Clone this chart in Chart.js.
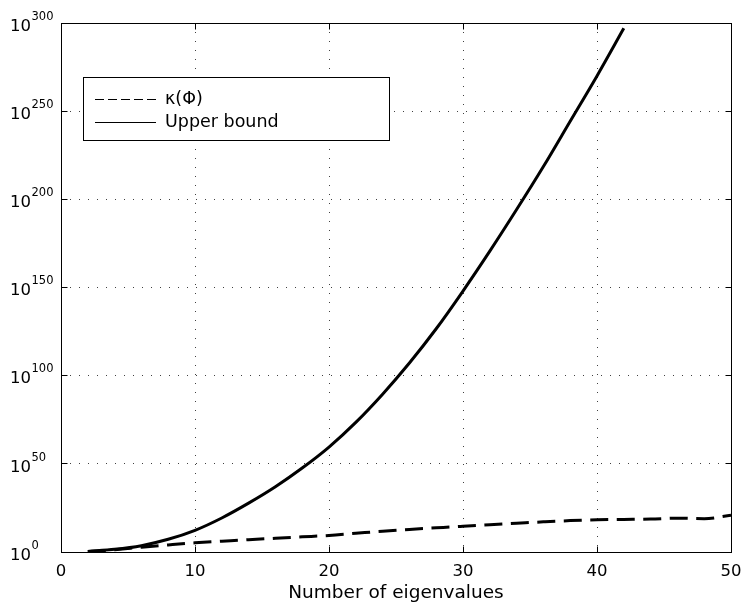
<!DOCTYPE html>
<html>
<head>
<meta charset="utf-8">
<title>Condition number and upper bound</title>
<script src="https://cdn.jsdelivr.net/npm/chart.js@4.4.1/dist/chart.umd.min.js"></script>
<style>
  html, body { margin: 0; padding: 0; background: #fff; }
</style>
</head>
<body>
<canvas id="kappa-chart" width="743" height="609"></canvas>
<script>
// Number of eigenvalues (even n only)
const eigenCounts = [2, 4, 6, 8, 10, 12, 14, 16, 18, 20, 22, 24, 26, 28, 30, 32, 34, 36, 38, 40, 42, 44, 46, 48, 50];
// log10 of kappa(Phi) for each n
const kappaExp = [0.2, 1.3, 2.7, 4.0, 5.2, 6.1, 7.0, 7.8, 8.6, 9.4, 10.6, 11.8, 12.8, 13.7, 14.6, 15.5, 16.3, 17.1, 17.8, 18.3, 18.5, 18.7, 19.2, 18.9, 20.8];
// The bound is only evaluated up to n = 42 (beyond that it overflows 1e300)
const boundCounts = [2, 4, 6, 8, 10, 12, 14, 16, 18, 20, 22, 24, 26, 28, 30, 32, 34, 36, 38, 40, 42];
const boundExp = [0.3, 1.5, 3.6, 7.2, 12.3, 19.3, 27.7, 37.0, 47.6, 59.5, 73.5, 89.5, 107.2, 126.6, 148.0, 170.6, 194.2, 218.6, 244.3, 270.0, 297.0];

const xTicks = [0, 10, 20, 30, 40, 50];
const yTickExps = [0, 50, 100, 150, 200, 250, 300];

const FONT = '"DejaVu Sans", "Liberation Sans", sans-serif';
const gridColor = 'rgba(0, 0, 0, 0.75)';

const pow10 = e => Math.pow(10, e);
const toPoints = (xs, exps) => xs.map((n, i) => ({ x: n, y: pow10(exps[i]) }));

Chart.defaults.font.family = FONT;
Chart.defaults.color = '#000';

// Full box round the axes with inward ticks, like a MATLAB figure
const axesBox = {
  id: 'axesBox',
  afterDraw(chart) {
    const { ctx, chartArea: a, scales: { x, y } } = chart;
    const L = Math.floor(a.left) + 0.5, R = Math.floor(a.right) + 0.5;
    const T = Math.floor(a.top) + 0.5, B = Math.floor(a.bottom) + 0.5;
    const tl = 6;
    ctx.save();
    ctx.strokeStyle = '#000';
    ctx.lineWidth = 1;
    ctx.setLineDash([]);
    ctx.strokeRect(L, T, R - L, B - T);
    ctx.beginPath();
    xTicks.forEach(v => {
      const px = Math.floor(x.getPixelForValue(v)) + 0.5;
      ctx.moveTo(px, B); ctx.lineTo(px, B - tl);
      ctx.moveTo(px, T); ctx.lineTo(px, T + tl);
    });
    yTickExps.forEach(e => {
      const py = Math.floor(y.getPixelForValue(pow10(e))) + 0.5;
      ctx.moveTo(L, py); ctx.lineTo(L + tl, py);
      ctx.moveTo(R, py); ctx.lineTo(R - tl, py);
    });
    ctx.stroke();

    // y tick labels as 10 with a raised exponent
    ctx.fillStyle = '#000';
    ctx.textAlign = 'left';
    ctx.textBaseline = 'alphabetic';
    yTickExps.forEach(e => {
      const py = y.getPixelForValue(pow10(e));
      ctx.font = '16.5px ' + FONT;
      ctx.fillText('10', 10, py + 7.7);
      const w = ctx.measureText('10').width;
      ctx.font = '11.5px ' + FONT;
      ctx.fillText(String(e), 10 + w + 0.5, py - 3.3);
    });
    ctx.restore();
  }
};

// Boxed legend in the upper left corner
const boxedLegend = {
  id: 'boxedLegend',
  afterDraw(chart) {
    const { ctx } = chart;
    const box = { x: 83.5, y: 77.5, w: 306, h: 63 };
    const rows = [99, 122.5];
    ctx.save();
    ctx.fillStyle = '#fff';
    ctx.fillRect(box.x, box.y, box.w, box.h);
    ctx.strokeStyle = '#000';
    ctx.lineWidth = 1;
    ctx.strokeRect(box.x, box.y, box.w, box.h);
    chart.data.datasets.forEach((ds, i) => {
      const ry = rows[i];
      ctx.beginPath();
      ctx.setLineDash(ds.legendDash || []);
      ctx.moveTo(95, Math.floor(ry) + 0.5);
      ctx.lineTo(156, Math.floor(ry) + 0.5);
      ctx.stroke();
      ctx.setLineDash([]);
      ctx.fillStyle = '#000';
      ctx.font = '17.5px ' + FONT;
      ctx.textAlign = 'left';
      ctx.textBaseline = 'middle';
      ctx.fillText(ds.label, 165, ry);
    });
    ctx.restore();
  }
};

new Chart(document.getElementById('kappa-chart'), {
  type: 'line',
  data: {
    datasets: [{
      label: 'κ(Φ)',
      data: toPoints(eigenCounts, kappaExp),
      borderColor: '#000',
      borderWidth: 3,
      borderDash: [18, 8.5],
      legendDash: [9, 4],
      pointRadius: 0,
      cubicInterpolationMode: 'monotone',
      fill: false
    }, {
      label: 'Upper bound',
      data: toPoints(boundCounts, boundExp),
      borderColor: '#000',
      borderWidth: 3,
      pointRadius: 0,
      cubicInterpolationMode: 'monotone',
      fill: false
    }]
  },
  options: {
    responsive: false,
    animation: false,
    layout: { padding: { top: 23, right: 12, left: 0, bottom: 0 } },
    plugins: {
      legend: { display: false },
      tooltip: { enabled: false }
    },
    scales: {
      x: {
        type: 'linear',
        min: 0,
        max: 50,
        ticks: { stepSize: 10, padding: 10, font: { size: 16.5 } },
        grid: { color: gridColor, drawTicks: false },
        border: { display: false, dash: [1, 8] },
        title: {
          display: true,
          text: 'Number of eigenvalues',
          font: { size: 18.5 },
          padding: { top: 0, bottom: 5 }
        },
        afterFit: s => {
          s.height = 57;
          // the end labels may overhang the plot, the layout padding leaves room for them
          s.paddingLeft = 0;
          s.paddingRight = 0;
        }
      },
      y: {
        type: 'logarithmic',
        min: 1,
        max: 1e300,
        afterBuildTicks: s => { s.ticks = yTickExps.map(e => ({ value: pow10(e) })); },
        ticks: { display: false },
        grid: { color: gridColor, drawTicks: false },
        border: { display: false, dash: [1, 8] },
        afterFit: s => { s.width = 61; }
      }
    }
  },
  plugins: [axesBox, boxedLegend]
});
</script>
</body>
</html>
